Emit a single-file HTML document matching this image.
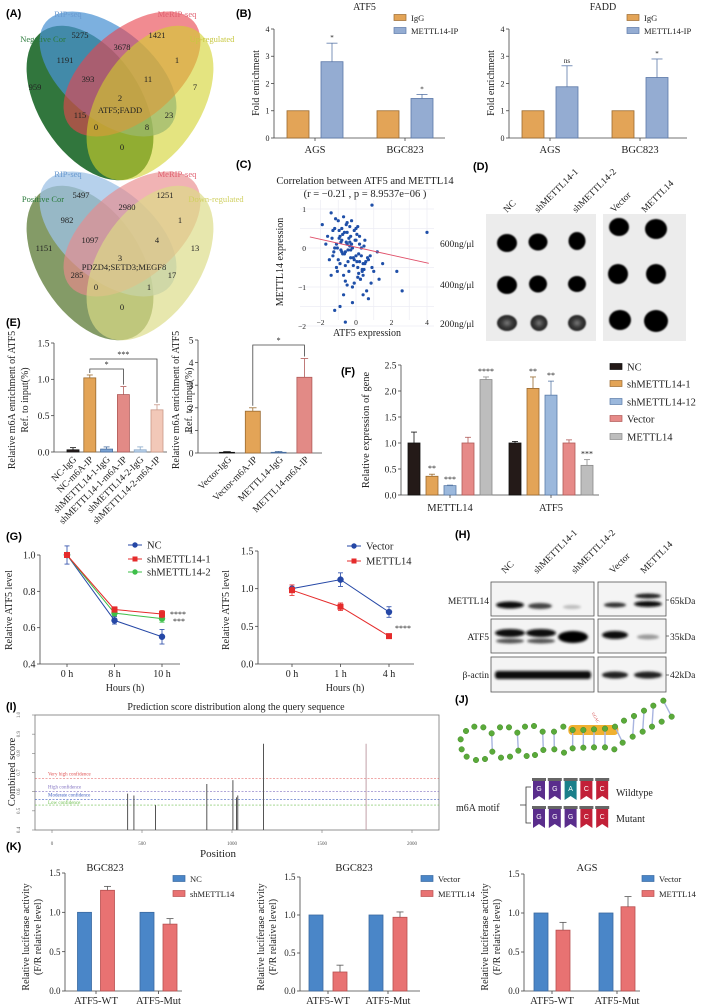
<!DOCTYPE html>
<html><head><meta charset="utf-8">
<style>
html,body{margin:0;padding:0;background:#fff;}
svg{display:block;font-family:"Liberation Serif",serif;}
.pl{font-family:"Liberation Sans",sans-serif;font-weight:bold;font-size:11px;}
</style></head>
<body>
<svg id="fig" width="709" height="1006" viewBox="0 0 709 1006" xmlns="http://www.w3.org/2000/svg">
<defs>
<filter id="blur" x="-20%" y="-50%" width="140%" height="200%"><feGaussianBlur stdDeviation="1.3"/></filter>
<filter id="blur2"><feGaussianBlur stdDeviation="0.8"/></filter>
<radialGradient id="faint"><stop offset="0" stop-color="#777"/><stop offset="0.55" stop-color="#3a3a3a"/><stop offset="1" stop-color="#222"/></radialGradient>
</defs>

<!-- Panel A -->
<g>
<text class="pl" x="6" y="17">(A)</text>
<ellipse cx="90" cy="103" rx="86" ry="51" transform="rotate(57 90 103)" fill="#1f6a2c" fill-opacity="0.92"/>
<ellipse cx="108" cy="74" rx="81" ry="45" transform="rotate(40 108 74)" fill="#4a92d2" fill-opacity="0.72"/>
<ellipse cx="132" cy="74" rx="81" ry="45" transform="rotate(-40 132 74)" fill="#e8444e" fill-opacity="0.62"/>
<ellipse cx="150" cy="103" rx="86" ry="51" transform="rotate(-57 150 103)" fill="#d2d22c" fill-opacity="0.6"/>
<g font-size="8.5" fill="#222" text-anchor="middle">
<text x="68" y="17" fill="#6a9ad0" font-size="8.5">RIP-seq</text>
<text x="177" y="17" fill="#e06070">MeRIP-seq</text>
<text x="43" y="42" fill="#2a7a3a">Negative Cor</text>
<text x="212" y="42" fill="#c8c840">Up-regulated</text>
<text x="80" y="38">5275</text><text x="157" y="38">1421</text><text x="122" y="50">3678</text>
<text x="65" y="63">1191</text><text x="177" y="63">1</text><text x="88" y="82">393</text><text x="148" y="82">11</text>
<text x="35" y="90">959</text><text x="195" y="90">7</text><text x="120" y="101">2</text>
<text x="120" y="113">ATF5;FADD</text>
<text x="80" y="118">115</text><text x="169" y="118">23</text><text x="96" y="130">0</text><text x="147" y="130">8</text><text x="122" y="150">0</text>
</g>
</g>
<g>
<ellipse cx="90" cy="263" rx="86" ry="51" transform="rotate(57 90 263)" fill="#6f8a4c" fill-opacity="0.85"/>
<ellipse cx="108" cy="234" rx="81" ry="45" transform="rotate(40 108 234)" fill="#9ec2e6" fill-opacity="0.75"/>
<ellipse cx="132" cy="234" rx="81" ry="45" transform="rotate(-40 132 234)" fill="#ea8a8c" fill-opacity="0.65"/>
<ellipse cx="150" cy="263" rx="86" ry="51" transform="rotate(-57 150 263)" fill="#dcdc86" fill-opacity="0.68"/>
<g font-size="8.5" fill="#222" text-anchor="middle">
<text x="68" y="177" fill="#6a9ad0">RIP-seq</text>
<text x="177" y="177" fill="#e06070">MeRIP-seq</text>
<text x="43" y="202" fill="#2a7a3a">Positive Cor</text>
<text x="216" y="202" fill="#d0d060">Down-regulated</text>
<text x="81" y="198">5497</text><text x="165" y="198">1251</text><text x="127" y="210">2980</text>
<text x="67" y="223">982</text><text x="180" y="223">1</text><text x="90" y="243">1097</text><text x="157" y="243">4</text>
<text x="44" y="251">1151</text><text x="195" y="251">13</text><text x="120" y="261">3</text>
<text x="124" y="270">PDZD4;SETD3;MEGF8</text>
<text x="77" y="278">285</text><text x="172" y="278">17</text><text x="96" y="290">0</text><text x="149" y="290">1</text><text x="122" y="310">0</text>
</g>
</g>

<!-- Panel labels -->
<text class="pl" x="236" y="17">(B)</text>
<text class="pl" x="236" y="168">(C)</text>
<text class="pl" x="473" y="170">(D)</text>
<text class="pl" x="6" y="326">(E)</text>
<text class="pl" x="341" y="375">(F)</text>
<text class="pl" x="6" y="540">(G)</text>
<text class="pl" x="455" y="538">(H)</text>
<text class="pl" x="6" y="710">(I)</text>
<text class="pl" x="455" y="703">(J)</text>
<text class="pl" x="6" y="850">(K)</text>

<!-- Panel D static blot -->
<g>
<rect x="486" y="214" width="110" height="127" fill="#ececec"/>
<rect x="603" y="214" width="83" height="127" fill="#ececec"/>
<g font-size="9.5" fill="#222">
<text x="440" y="247">600ng/μl</text>
<text x="440" y="288">400ng/μl</text>
<text x="440" y="327">200ng/μl</text>
<text transform="rotate(-45 507 213)" x="507" y="213">NC</text>
<text transform="rotate(-45 538 213)" x="538" y="213">shMETTL14-1</text>
<text transform="rotate(-45 576 213)" x="576" y="213">shMETTL14-2</text>
<text transform="rotate(-45 614 213)" x="614" y="213">Vector</text>
<text transform="rotate(-45 645 213)" x="645" y="213">METTL14</text>
</g>
<g fill="#050505" filter="url(#blur2)">
<ellipse cx="507" cy="243" rx="10" ry="9"/><ellipse cx="538" cy="242" rx="9.5" ry="8.5"/><ellipse cx="577" cy="241" rx="8.5" ry="9"/>
<ellipse cx="507" cy="285" rx="10" ry="9"/><ellipse cx="538" cy="284" rx="9" ry="8.5"/><ellipse cx="577" cy="284" rx="9" ry="8"/>
<ellipse cx="507" cy="323" rx="10" ry="8" fill="url(#faint)"/><ellipse cx="539" cy="323" rx="8.5" ry="8" fill="url(#faint)"/><ellipse cx="577" cy="323" rx="9" ry="8" fill="url(#faint)"/>
<ellipse cx="619" cy="227" rx="10" ry="9"/><ellipse cx="656" cy="229" rx="11" ry="10"/>
<ellipse cx="618" cy="274" rx="10" ry="10"/><ellipse cx="656" cy="274" rx="10" ry="10"/>
<ellipse cx="620" cy="320" rx="11" ry="10"/><ellipse cx="656" cy="321" rx="12" ry="11"/>
</g>
</g>

<!-- Panel H western blot -->
<g>
<g font-size="9.5" fill="#222">
<text transform="rotate(-45 505 574)" x="505" y="574">NC</text>
<text transform="rotate(-45 537 574)" x="537" y="574">shMETTL14-1</text>
<text transform="rotate(-45 575 574)" x="575" y="574">shMETTL14-2</text>
<text transform="rotate(-45 613 574)" x="613" y="574">Vector</text>
<text transform="rotate(-45 644 574)" x="644" y="574">METTL14</text>
<text x="489" y="604" text-anchor="end">METTL14</text>
<text x="489" y="640" text-anchor="end">ATF5</text>
<text x="489" y="678" text-anchor="end">β-actin</text>
<text x="670" y="604">65kDa</text>
<text x="670" y="640">35kDa</text>
<text x="670" y="678">42kDa</text>
</g>
<g fill="#f4f4f4" stroke="#555" stroke-width="0.8">
<rect x="491" y="582" width="103" height="34"/><rect x="598" y="582" width="68" height="34"/>
<rect x="491" y="619" width="103" height="34"/><rect x="598" y="619" width="68" height="34"/>
<rect x="491" y="657" width="103" height="35"/><rect x="598" y="657" width="68" height="35"/>
</g>
<g stroke="#555" stroke-width="0.8"><line x1="666" y1="600" x2="669" y2="600"/><line x1="666" y1="636" x2="669" y2="636"/><line x1="666" y1="675" x2="669" y2="675"/></g>
<g filter="url(#blur)">
<ellipse cx="510" cy="605" rx="14" ry="3.5" fill="#111"/><ellipse cx="540" cy="606" rx="12" ry="3" fill="#444"/><ellipse cx="572" cy="607" rx="9" ry="2" fill="#bbb"/>
<ellipse cx="615" cy="605" rx="11" ry="2.5" fill="#333"/><ellipse cx="648" cy="604" rx="14" ry="3" fill="#111"/><ellipse cx="648" cy="596" rx="13" ry="2.5" fill="#222"/>
<ellipse cx="510" cy="633" rx="15" ry="4" fill="#111"/><ellipse cx="541" cy="633" rx="15" ry="4" fill="#111"/><ellipse cx="573" cy="637" rx="15" ry="6" fill="#000"/>
<ellipse cx="510" cy="641" rx="14" ry="2.5" fill="#555"/><ellipse cx="541" cy="641" rx="14" ry="2.5" fill="#555"/>
<ellipse cx="615" cy="635" rx="13" ry="4" fill="#111"/><ellipse cx="648" cy="637" rx="11" ry="2.5" fill="#999"/>
<rect x="495" y="671" width="96" height="8" rx="3" fill="#111"/>
<ellipse cx="615" cy="675" rx="13" ry="3.5" fill="#222"/><ellipse cx="648" cy="675" rx="14" ry="3.5" fill="#222"/>
</g>
</g>

<!-- Panel J motif -->
<g font-size="10" fill="#222">
<text x="456" y="811">m6A motif</text>
<path d="M531 787 H526 V823 H531 M526 805 H520" fill="none" stroke="#333" stroke-width="0.8"/>
<text x="616" y="796">Wildtype</text>
<text x="616" y="822">Mutant</text>
</g>
<g id="jlayer"></g>

<g id="charts"></g>
</svg>

<script>
// ---------- DATA ----------
const bGroups = ['AGS', 'BGC823'];
const bTicks = [0, 1, 2, 3, 4];
const bAtf5IgG = [1, 1];
const bAtf5IP = [2.8, 1.45];
const bAtf5IPErr = [0.68, 0.15];
const bAtf5Stars = ['*', '*'];
const bFaddIgG = [1, 1];
const bFaddIP = [1.88, 2.22];
const bFaddIPErr = [0.77, 0.68];
const bFaddStars = ['ns', '*'];

const cAtf5 = [-1.9,-1.6,-1.4,-1.3,-1.2,-1.1,-1.0,-0.9,-0.8,-0.7,-0.6,-0.5,-0.4,-0.3,-0.2,-0.1,0.0,0.1,0.2,0.3,0.4,0.5,0.7,0.9,1.2,1.5,-1.5,-1.2,-0.95,-0.75,-0.55,-0.35,-0.15,0.05,0.25,0.45,0.65,0.85,-1.35,-1.05,-0.85,-0.65,-0.45,-0.25,-0.05,0.15,0.35,0.55,-1.15,-0.9,-0.7,-0.5,-0.3,-0.1,0.1,0.3,0.6,1.0,-1.25,-1.0,-0.8,-0.6,-0.4,-0.2,0.0,0.2,0.4,0.8,1.3,-1.7,-1.1,-0.85,-0.6,-0.35,-0.1,0.15,0.4,0.7,-0.9,-0.5,-0.2,0.1,2.3,2.6,4.0,-1.2,0.9,-0.7,-0.3,0.0,0.5,-1.4,-0.6,0.2,-0.75,-0.45,-0.15,-1.05,-0.55,0.05,-0.35,-0.65,0.35,-0.95,-0.25,0.25,-0.5,-0.8,0.45,-1.3];
const cMettl14 = [0.6,0.3,0.9,-0.2,0.5,0.1,0.7,-0.4,0.2,0.8,-0.1,0.4,-0.6,0.3,0.0,-0.3,0.5,-0.5,0.1,-0.2,-0.7,0.2,-0.3,-0.5,-0.1,-0.4,-0.3,0.0,0.45,-0.15,0.6,0.15,-0.45,0.35,-0.8,0.05,-0.25,-0.9,0.25,-0.6,-0.05,0.4,-0.35,0.7,0.2,-0.15,-0.55,-0.35,0.75,0.3,-0.7,0.1,-0.25,-0.9,0.55,0.0,-1.1,-0.6,-0.1,-0.3,0.5,-0.45,0.25,-1.0,-0.2,0.3,-1.2,-0.2,-0.8,0.1,-0.5,0.15,-0.85,0.05,0.45,-0.65,-0.4,-1.3,-1.5,-0.95,-1.4,-0.75,-0.6,-1.1,0.4,-1.6,1.1,-1.2,-0.05,0.2,-0.4,-0.7,-1.9,-0.35,0.35,-0.05,-0.25,0.0,0.15,-0.35,0.55,-0.15,-0.6,0.25,0.1,-0.8,0.65,-0.1,-0.55,0.45];
const cTicksX = [-2, 0, 2, 4];
const cTicksY = [-2, -1, 0, 1];
const cFit = [0.02, -0.101];   // intercept, slope

const eCats1 = ['NC-IgG','NC-m6A-IP','shMETTL14-1-IgG','shMETTL14-1-m6A-IP','shMETTL14-2-IgG','shMETTL14-2-m6A-IP'];
const eVals1 = [0.03, 1.02, 0.04, 0.79, 0.03, 0.58];
const eErrs1 = [0.03, 0.04, 0.03, 0.11, 0.04, 0.07];
const eTicks1 = [0, 0.5, 1.0, 1.5];
const eCats2 = ['Vector-IgG','Vector-m6A-IP','METTL14-IgG','METTL14-m6A-IP'];
const eVals2 = [0.03, 1.85, 0.03, 3.35];
const eErrs2 = [0.03, 0.15, 0.04, 0.83];
const eTicks2 = [0, 1, 2, 3, 4, 5];

const fGroups = ['METTL14', 'ATF5'];
const fSeries = ['NC', 'shMETTL14-1', 'shMETTL14-12', 'Vector', 'METTL14'];
const fNC = [1.0, 1.0];
const fSh1 = [0.36, 2.05];
const fSh12 = [0.18, 1.92];
const fVector = [1.0, 1.0];
const fMettl14 = [2.22, 0.57];
const fErrNC = [0.21, 0.03];
const fErrSh1 = [0.04, 0.22];
const fErrSh12 = [0.01, 0.27];
const fErrVector = [0.11, 0.06];
const fErrMettl14 = [0.05, 0.11];
const fStarsMettl14Group = ['', '**', '***', '', '****'];
const fStarsAtf5Group = ['', '**', '**', '', '***'];
const fTicks = [0, 0.5, 1.0, 1.5, 2.0, 2.5];

const gTimes1 = ['0 h', '8 h', '10 h'];
const gNC = [1.0, 0.64, 0.55];
const gNCErr = [0.05, 0.02, 0.04];
const gSh1 = [1.0, 0.70, 0.675];
const gSh1Err = [0.01, 0.015, 0.02];
const gSh2 = [1.0, 0.68, 0.65];
const gSh2Err = [0.01, 0.015, 0.02];
const gTicks1 = [0.4, 0.6, 0.8, 1.0];
const gTimes2 = ['0 h', '1 h', '4 h'];
const gVector = [1.0, 1.12, 0.69];
const gVectorErr = [0.05, 0.09, 0.07];
const gMettl14 = [0.98, 0.76, 0.37];
const gMettl14Err = [0.07, 0.05, 0.02];
const gTicks2 = [0, 0.5, 1.0, 1.5];

const iPositions = [420, 455, 575, 860, 1005, 1025, 1032, 1175, 1745];
const iScores = [0.59, 0.58, 0.53, 0.64, 0.66, 0.57, 0.58, 0.85, 0.85];
const iThresholds = [0.67, 0.60, 0.56, 0.53];
const iThreshLabels = ['Very high confidence', 'High confidence', 'Moderate confidence', 'Low confidence'];
const iTicksX = [0, 500, 1000, 1500, 2000];
const iTicksY = [0.4, 0.5, 0.6, 0.7, 0.8, 0.9, 1.0];

const kGroups = ['ATF5-WT', 'ATF5-Mut'];
const kTicks = [0, 0.5, 1.0, 1.5];
const k1Ctrl = [1, 1];
const k1Treat = [1.28, 0.85];
const k1Err = [0.05, 0.07];
const k2Ctrl = [1, 1];
const k2Treat = [0.25, 0.97];
const k2Err = [0.09, 0.07];
const k3Ctrl = [1, 1];
const k3Treat = [0.78, 1.08];
const k3Err = [0.1, 0.13];

// ---------- HELPERS ----------
const NS = 'http://www.w3.org/2000/svg';
const root = document.getElementById('charts');
function mk(tag, attrs, name, parent, txt) {
  const el = document.createElementNS(NS, tag);
  for (const k in attrs) el.setAttribute(k, attrs[k]);
  
  
  if (txt !== undefined) el.textContent = txt;
  (parent || root).appendChild(el);
  return el;
}
function lin(d0, d1, r0, r1) { return v => r0 + (v - d0) * (r1 - r0) / (d1 - d0); }
function fmt(v, d) { return v.toFixed(d); }
function yAxis(x, ys, ticks, dec, fs, name, tickLen) {
  const g = mk('g', {}, name);
  mk('line', {x1: x, x2: x, y1: ys(ticks[0]), y2: ys(ticks[ticks.length - 1]), stroke: '#444', 'stroke-width': 0.8}, name + '-line', g);
  ticks.forEach(t => {
    mk('line', {x1: x - (tickLen || 3), x2: x, y1: ys(t), y2: ys(t), stroke: '#444', 'stroke-width': 0.8}, name + '-tick', g);
    mk('text', {x: x - (tickLen || 3) - 1.5, y: ys(t) + fs * 0.35, 'font-size': fs, 'text-anchor': 'end', fill: '#222'}, name + '-tick-label', g, fmt(t, dec));
  });
  return g;
}
function xLine(x0, x1, y, name) {
  mk('line', {x1: x0, x2: x1, y1: y, y2: y, stroke: '#444', 'stroke-width': 0.8}, name);
}
function bar(cx, w, v, ys, fill, stroke, name, err, errCol) {
  const y = ys(v), y0 = ys(0);
  mk('rect', {x: cx - w / 2, y: Math.min(y, y0), width: w, height: Math.abs(y0 - y), fill: fill, stroke: stroke, 'stroke-width': 0.8}, name);
  if (err) {
    const ye = ys(v + err);
    mk('line', {x1: cx, x2: cx, y1: y, y2: ye, stroke: errCol || stroke, 'stroke-width': 0.8}, name + '-error');
    mk('line', {x1: cx - w / 4, x2: cx + w / 4, y1: ye, y2: ye, stroke: errCol || stroke, 'stroke-width': 0.8}, name + '-error-cap');
  }
}
function txt(x, y, s, fs, name, anchor, rot, fill) {
  const a = {x: x, y: y, 'font-size': fs, 'text-anchor': anchor || 'middle', fill: fill || '#222'};
  if (rot) a.transform = 'rotate(' + rot + ' ' + x + ' ' + y + ')';
  return mk('text', a, name, root, s);
}
function legendBox(x, y, fill, stroke, label, fs, name) {
  mk('rect', {x: x, y: y - 3.5, width: 12, height: 6, fill: fill, stroke: stroke, 'stroke-width': 0.7}, name + '-swatch');
  mk('text', {x: x + 17, y: y + fs * 0.35, 'font-size': fs, fill: '#222'}, name + '-label', root, label);
}

// ---------- PANEL B ----------
function panelB(x0, x1, cx0, title, igg, ip, ipErr, stars, pref) {
  const ys = lin(0, 4, 138, 29);
  const gx = i => cx0 + 90 * i;
  yAxis(x0, ys, bTicks, 0, 8, pref + '-y-axis');
  xLine(x0, x1, 138, pref + '-x-axis');
  txt(x0 - 15, 83, 'Fold enrichment', 10, pref + '-y-title', 'middle', -90);
  txt((x0 + x1) / 2 + 5, 10, title, 10, pref + '-title');
  bGroups.forEach((gname, i) => {
    bar(gx(i) - 17, 22, igg[i], ys, '#e3a457', '#9a6a30', pref + '-bar-igg-' + i);
    bar(gx(i) + 17, 22, ip[i], ys, '#94acd2', '#5b78a8', pref + '-bar-ip-' + i, ipErr[i], '#5b78a8');
    mk('line', {x1: gx(i), x2: gx(i), y1: 138, y2: 141, stroke: '#444', 'stroke-width': 0.8}, pref + '-x-tick');
    txt(gx(i), 153, gname, 10.5, pref + '-group-label');
    txt(gx(i) + 17, ys(ip[i] + ipErr[i]) - 3, stars[i], 7, pref + '-significance');
  });
}
panelB(274, 445, 315, 'ATF5', bAtf5IgG, bAtf5IP, bAtf5IPErr, bAtf5Stars, 'atf5-rip');
panelB(509, 687, 550, 'FADD', bFaddIgG, bFaddIP, bFaddIPErr, bFaddStars, 'fadd-rip');
legendBox(394, 18, '#e3a457', '#9a6a30', 'IgG', 8.5, 'atf5-legend-igg');
legendBox(394, 31, '#94acd2', '#5b78a8', 'METTL14-IP', 8.5, 'atf5-legend-ip');
legendBox(627, 18, '#e3a457', '#9a6a30', 'IgG', 8.5, 'fadd-legend-igg');
legendBox(627, 31, '#94acd2', '#5b78a8', 'METTL14-IP', 8.5, 'fadd-legend-ip');

// ---------- PANEL C ----------
(function () {
  const xs = lin(0, 2, 356, 391.5);
  const ys = lin(0, 1, 248, 209);
  txt(365, 184, 'Correlation between ATF5 and METTL14', 10.5, 'scatter-title');
  txt(365, 197, '(r = \u22120.21 , p = 8.9537e\u221206 )', 10.5, 'scatter-subtitle');
  [-2, -1, 0, 1, 2, 3, 4].forEach(v => mk('line', {x1: xs(v), x2: xs(v), y1: 200, y2: 320, stroke: '#ececf4', 'stroke-width': 0.7}, 'scatter-grid-x'));
  [-2, -1.5, -1, -0.5, 0, 0.5, 1, 1.5].forEach(v => mk('line', {x1: 300, x2: 434, y1: ys(v), y2: ys(v), stroke: '#ececf4', 'stroke-width': 0.7}, 'scatter-grid-y'));
  cTicksX.forEach(v => txt(xs(v), 325, String(v).replace('-', '\u2212'), 7.5, 'scatter-x-tick-label'));
  cTicksY.forEach(v => txt(306, ys(v) + 3, String(v).replace('-', '\u2212'), 7.5, 'scatter-y-tick-label', 'end'));
  const n = Math.min(cAtf5.length, cMettl14.length);
  for (let i = 0; i < n; i++) {
    mk('circle', {cx: xs(cAtf5[i]), cy: ys(cMettl14[i]), r: 1.6, fill: '#1f4fa8'}, 'scatter-point');
  }
  mk('line', {x1: xs(-2.6), y1: ys(cFit[0] + cFit[1] * -2.6), x2: xs(4.1), y2: ys(cFit[0] + cFit[1] * 4.1), stroke: '#e0506a', 'stroke-width': 0.9}, 'regression-line');
  txt(367, 336, 'ATF5  expression', 10, 'scatter-x-title');
  txt(283, 262, 'METTL14  expression', 10, 'scatter-y-title', 'middle', -90);
})();

// ---------- PANEL E ----------
(function () {
  const ys = lin(0, 1.5, 452, 343);
  const gx = i => 73 + 16.8 * i;
  const fills = ['#2a2020', '#e3a457', '#7ba4d4', '#e28a86', '#bcd3ec', '#f2c8b8'];
  const strokes = ['#111', '#9a6a30', '#4a6fa0', '#b05a58', '#8aa8c8', '#c89888'];
  yAxis(54, ys, eTicks1, 1, 9.5, 'e1-y-axis');
  xLine(54, 167, 452, 'e1-x-axis');
  eCats1.forEach((c, i) => {
    bar(gx(i), 12, eVals1[i], ys, fills[i], strokes[i], 'e1-bar-' + i, eErrs1[i], strokes[i]);
    txt(gx(i) + 4, 460, c, 9.5, 'e1-x-label', 'end', -45);
  });
  const b1 = 369, b2 = 359;
  mk('path', {d: `M${gx(1)} ${ys(eVals1[1] + eErrs1[1]) - 2} V${b1} H${gx(3)} V${ys(eVals1[3] + eErrs1[3]) - 2}`, fill: 'none', stroke: '#444', 'stroke-width': 0.8}, 'e1-bracket-star');
  mk('path', {d: `M${gx(1)} ${b2} H${gx(5)} V${ys(eVals1[5] + eErrs1[5]) - 2}`, fill: 'none', stroke: '#444', 'stroke-width': 0.8}, 'e1-bracket-3star');
  txt((gx(1) + gx(3)) / 2, b1 - 2, '*', 8, 'e1-sig-star');
  txt((gx(1) + gx(5)) / 2, b2 - 2, '***', 8, 'e1-sig-3star');
  txt(15, 400, 'Relative m6A enrichment of ATF5', 10, 'e1-y-title', 'middle', -90);
  txt(28, 400, 'Ref. to input(%)', 10, 'e1-y-title-2', 'middle', -90);
})();
(function () {
  const ys = lin(0, 5, 453, 340);
  const gx = i => 227 + 25.8 * i;
  const fills = ['#2a2020', '#e3a457', '#7ba4d4', '#e28a86'];
  const strokes = ['#111', '#9a6a30', '#4a6fa0', '#b05a58'];
  yAxis(198, ys, eTicks2, 0, 9.5, 'e2-y-axis');
  xLine(198, 322, 453, 'e2-x-axis');
  eCats2.forEach((c, i) => {
    bar(gx(i), 15, eVals2[i], ys, fills[i], strokes[i], 'e2-bar-' + i, eErrs2[i], strokes[i]);
    txt(gx(i) + 5, 460, c, 9.5, 'e2-x-label', 'end', -45);
  });
  mk('path', {d: `M${gx(1)} ${ys(eVals2[1] + eErrs2[1]) - 2} V345 H${gx(3)} V${ys(eVals2[3] + eErrs2[3]) - 2}`, fill: 'none', stroke: '#444', 'stroke-width': 0.8}, 'e2-bracket');
  txt((gx(1) + gx(3)) / 2, 343, '*', 8, 'e2-sig-star');
  txt(179, 400, 'Relative m6A enrichment of ATF5', 10, 'e2-y-title', 'middle', -90);
  txt(192, 400, 'Ref. to input(%)', 10, 'e2-y-title-2', 'middle', -90);
})();

// ---------- PANEL F ----------
(function () {
  const ys = lin(0, 2.5, 495, 365);
  const gx = i => 450 + 101 * i;
  const fills = ['#241a18', '#e3a457', '#9bb8dc', '#e68a88', '#bdbdbd'];
  const strokes = ['#111', '#9a6a30', '#5a7ba8', '#b05a58', '#8a8a8a'];
  const vals = [fNC, fSh1, fSh12, fVector, fMettl14];
  const errs = [fErrNC, fErrSh1, fErrSh12, fErrVector, fErrMettl14];
  const stars = [fStarsMettl14Group, fStarsAtf5Group];
  yAxis(401, ys, fTicks, 1, 9.5, 'f-y-axis');
  xLine(401, 599, 495, 'f-x-axis');
  fGroups.forEach((gname, gi) => {
    fSeries.forEach((s, si) => {
      const cx = gx(gi) + (si - 2) * 18;
      bar(cx, 12, vals[si][gi], ys, fills[si], strokes[si], 'f-bar-' + s + '-' + gname, errs[si][gi], strokes[si]);
      if (stars[gi][si]) txt(cx, ys(vals[si][gi] + errs[si][gi]) - 3, stars[gi][si], 8, 'f-significance');
    });
    mk('line', {x1: gx(gi), x2: gx(gi), y1: 495, y2: 498, stroke: '#444', 'stroke-width': 0.8}, 'f-x-tick');
    txt(gx(gi), 511, gname, 10.5, 'f-group-label');
  });
  txt(369, 430, 'Relative expression of gene', 10.5, 'f-y-title', 'middle', -90);
  const ly = [367, 384, 402, 419, 437];
  fSeries.forEach((s, i) => legendBox(610, ly[i], fills[i], strokes[i], s, 10.5, 'f-legend-' + i));
})();

// ---------- PANEL G ----------
function lineSeries(xsF, ys, vals, errs, color, marker, name) {
  const pts = vals.map((v, i) => [xsF(i), ys(v)]);
  mk('polyline', {points: pts.map(p => p.join(',')).join(' '), fill: 'none', stroke: color, 'stroke-width': 1}, name + '-line');
  vals.forEach((v, i) => {
    const x = xsF(i);
    mk('line', {x1: x, x2: x, y1: ys(v - errs[i]), y2: ys(v + errs[i]), stroke: color, 'stroke-width': 0.8}, name + '-error');
    mk('line', {x1: x - 2.5, x2: x + 2.5, y1: ys(v + errs[i]), y2: ys(v + errs[i]), stroke: color, 'stroke-width': 0.8}, name + '-error-cap');
    mk('line', {x1: x - 2.5, x2: x + 2.5, y1: ys(v - errs[i]), y2: ys(v - errs[i]), stroke: color, 'stroke-width': 0.8}, name + '-error-cap');
    if (marker === 's') mk('rect', {x: x - 3, y: ys(v) - 3, width: 6, height: 6, fill: color}, name + '-point');
    else mk('circle', {cx: x, cy: ys(v), r: 3.2, fill: color}, name + '-point');
  });
}
function lineLegend(x, y, color, marker, label, name) {
  mk('line', {x1: x, x2: x + 14, y1: y, y2: y, stroke: color, 'stroke-width': 1}, name + '-line');
  if (marker === 's') mk('rect', {x: x + 4.5, y: y - 2.5, width: 5, height: 5, fill: color}, name + '-marker');
  else mk('circle', {cx: x + 7, cy: y, r: 2.7, fill: color}, name + '-marker');
  mk('text', {x: x + 19, y: y + 3.5, 'font-size': 10.5, fill: '#222'}, name + '-label', root, label);
}
(function () {
  const ys = lin(0.4, 1.0, 664, 555);
  const xsF = i => 67 + 47.5 * i;
  yAxis(40, ys, gTicks1, 1, 10, 'g1-y-axis');
  xLine(40, 180, 664, 'g1-x-axis');
  gTimes1.forEach((t, i) => {
    mk('line', {x1: xsF(i), x2: xsF(i), y1: 664, y2: 667, stroke: '#444', 'stroke-width': 0.8}, 'g1-x-tick');
    txt(xsF(i), 677, t, 10, 'g1-x-tick-label');
  });
  lineSeries(xsF, ys, gNC, gNCErr, '#2547a6', 'c', 'g1-nc');
  lineSeries(xsF, ys, gSh2, gSh2Err, '#3ebf4a', 'c', 'g1-sh2');
  lineSeries(xsF, ys, gSh1, gSh1Err, '#e52b2b', 's', 'g1-sh1');
  txt(170, 617, '****', 8, 'g1-sig-sh1', 'start');
  txt(173, 624, '***', 8, 'g1-sig-sh2', 'start');
  lineLegend(128, 545, '#2547a6', 'c', 'NC', 'g1-legend-nc');
  lineLegend(128, 559, '#e52b2b', 's', 'shMETTL14-1', 'g1-legend-sh1');
  lineLegend(128, 572, '#3ebf4a', 'c', 'shMETTL14-2', 'g1-legend-sh2');
  txt(12, 610, 'Relative ATF5 level', 10, 'g1-y-title', 'middle', -90);
  txt(125, 691, 'Hours (h)', 10, 'g1-x-title');
})();
(function () {
  const ys = lin(0, 1.5, 664, 551);
  const xsF = i => 292 + 48.5 * i;
  yAxis(258, ys, gTicks2, 1, 10, 'g2-y-axis');
  xLine(258, 414, 664, 'g2-x-axis');
  gTimes2.forEach((t, i) => {
    mk('line', {x1: xsF(i), x2: xsF(i), y1: 664, y2: 667, stroke: '#444', 'stroke-width': 0.8}, 'g2-x-tick');
    txt(xsF(i), 677, t, 10, 'g2-x-tick-label');
  });
  lineSeries(xsF, ys, gVector, gVectorErr, '#2547a6', 'c', 'g2-vector');
  lineSeries(xsF, ys, gMettl14, gMettl14Err, '#e52b2b', 's', 'g2-mettl14');
  txt(395, 631, '****', 8, 'g2-sig', 'start');
  lineLegend(347, 546, '#2547a6', 'c', 'Vector', 'g2-legend-vector');
  lineLegend(347, 561, '#e52b2b', 's', 'METTL14', 'g2-legend-mettl14');
  txt(229, 610, 'Relative ATF5 level', 10, 'g2-y-title', 'middle', -90);
  txt(345, 691, 'Hours (h)', 10, 'g2-x-title');
})();

// ---------- PANEL I ----------
(function () {
  const xs = lin(0, 2000, 52, 412);
  const ys = lin(0.4, 1.0, 830, 715);
  mk('rect', {x: 35, y: 715, width: 404, height: 115, fill: 'none', stroke: '#777', 'stroke-width': 0.8}, 'i-plot-frame');
  txt(236, 710, 'Prediction score distribution along the query sequence', 10, 'i-title');
  iTicksY.forEach(v => {
    mk('line', {x1: 32, x2: 35, y1: ys(v), y2: ys(v), stroke: '#777', 'stroke-width': 0.6}, 'i-y-tick');
    txt(20, ys(v), v.toFixed(1), 5, 'i-y-tick-label', 'middle', -90, '#555');
  });
  iTicksX.forEach(v => {
    mk('line', {x1: xs(v), x2: xs(v), y1: 830, y2: 833, stroke: '#777', 'stroke-width': 0.6}, 'i-x-tick');
    txt(xs(v), 845, String(v), 5, 'i-x-tick-label', 'middle', 0, '#555');
  });
  const cols = ['#e05050', '#8070c0', '#4060c0', '#70c050'];
  iThresholds.forEach((t, k) => {
    mk('line', {x1: 35, x2: 439, y1: ys(t), y2: ys(t), stroke: cols[k], 'stroke-width': 0.6, 'stroke-dasharray': '2,1.5'}, 'i-threshold-' + k);
    txt(48, ys(t) - 3 + (k === 3 ? 2 : 0), iThreshLabels[k], 5, 'i-threshold-label', 'start', 0, cols[k]);
  });
  iPositions.forEach((p, i) => {
    mk('line', {x1: xs(p), x2: xs(p), y1: 830, y2: ys(iScores[i]), stroke: i === iPositions.length - 1 ? '#c0a0a8' : '#555', 'stroke-width': 1}, 'i-score-bar');
  });
  txt(218, 857, 'Position', 11, 'i-x-title');
  txt(15, 772, 'Combined score', 10.5, 'i-y-title', 'middle', -90);
})();

// ---------- PANEL K ----------
function panelK(axX, axEnd, cx0, step, gap, yTop, ctrl, treat, err, title, titleX, ctrlLabel, treatLabel, legX, pref) {
  const ys = lin(0, 1.5, 991, yTop);
  const gx = i => cx0 + step * i;
  yAxis(axX, ys, kTicks, 1, 9, pref + '-y-axis');
  xLine(axX, axEnd, 991, pref + '-x-axis');
  kGroups.forEach((g, i) => {
    bar(gx(i) - gap / 2, 14, ctrl[i], ys, '#4a86c8', '#3a6aa0', pref + '-bar-ctrl-' + i);
    bar(gx(i) + gap / 2, 14, treat[i], ys, '#e87272', '#b85050', pref + '-bar-treat-' + i, err[i], '#555');
    mk('line', {x1: gx(i), x2: gx(i), y1: 991, y2: 994, stroke: '#444', 'stroke-width': 0.8}, pref + '-x-tick');
    txt(gx(i), 1004, g, 10.5, pref + '-group-label');
  });
  txt(titleX, 871, title, 10.5, pref + '-title');
  txt(axX - 36, 937, 'Relative luciferase activity', 10, pref + '-y-title', 'middle', -90);
  txt(axX - 24, 937, '(F/R relative level)', 10, pref + '-y-title-2', 'middle', -90);
  legendBox(legX, 879, '#4a86c8', '#3a6aa0', ctrlLabel, 8.5, pref + '-legend-ctrl');
  legendBox(legX, 894, '#e87272', '#b85050', treatLabel, 8.5, pref + '-legend-treat');
}
panelK(65, 182, 96, 62.5, 23, 873, k1Ctrl, k1Treat, k1Err, 'BGC823', 105, 'NC', 'shMETTL14', 173, 'k1');
panelK(300, 420, 328, 60, 24, 877, k2Ctrl, k2Treat, k2Err, 'BGC823', 354, 'Vector', 'METTL14', 421, 'k2');
panelK(524, 640, 552, 65, 22, 874, k3Ctrl, k3Treat, k3Err, 'AGS', 587, 'Vector', 'METTL14', 642, 'k3');

// ---------- PANEL J (decorative RNA structure) ----------
(function () {
  const layer = document.getElementById('jlayer');
  const P = (zx, zy) => [440 + zx / 3, 690 + zy / 3];
  const top = [[78,123],[103,110],[130,112],[155,130],[180,112],[207,112],[232,128],[255,110],[282,108],[308,125],[342,125],[370,110],[398,120],[430,120],[462,118],[495,116],[525,110],[552,92],[582,78],[612,62],[640,47],[670,32]];
  const bot = [[62,148],[65,178],[80,200],[108,210],[135,207],[157,185],[183,203],[210,200],[235,182],[260,198],[285,195],[310,180],[343,178],[372,188],[398,175],[430,173],[462,172],[495,172],[523,178],[548,158],[578,140],[608,125],[636,110],[665,95],[695,80]];
  const pairs = [[[155,130],[157,185]],[[232,128],[235,182]],[[308,125],[310,180]],[[342,125],[343,178]],[[398,120],[398,175]],[[430,120],[430,173]],[[462,118],[462,172]],[[495,116],[495,172]],[[525,110],[548,158]],[[582,78],[578,140]],[[612,62],[608,125]],[[640,47],[636,110]],[[670,32],[695,80]]];
  const a = P(385, 105), b = P(535, 135);
  mk('rect', {x: a[0], y: a[1], width: b[0] - a[0], height: b[1] - a[1], rx: 4, fill: '#f0b030'}, 'motif-highlight', layer);
  pairs.forEach(pr => { const p = P(...pr[0]), q = P(...pr[1]); mk('line', {x1: p[0], y1: p[1], x2: q[0], y2: q[1], stroke: '#a8b4e0', 'stroke-width': 1.4}, 'base-pair', layer); });
  top.concat(bot).forEach(c => { const p = P(...c); mk('circle', {cx: p[0], cy: p[1], r: 2.8, fill: '#5aaa3a', stroke: '#3a8020', 'stroke-width': 0.4}, 'nucleotide', layer); });
  const t = P(455, 70);
  mk('text', {x: t[0], y: t[1], 'font-size': 4, fill: '#d04040', transform: 'rotate(60 ' + t[0] + ' ' + t[1] + ')'}, 'motif-site-label', layer, 'GGAC');
})();
(function () {
  const wt = ['G', 'G', 'A', 'C', 'C'];
  const mut = ['G', 'G', 'G', 'C', 'C'];
  const col = {G: '#5a2d8c', A: '#1a7f8a', C: '#c22038'};
  const xs = i => 539 + 15.8 * i;
  [[wt, 778], [mut, 806]].forEach(([seq, y0], r) => {
    seq.forEach((b, i) => {
      const x = xs(i) - 6;
      mk('rect', {x: x - 1, y: y0, width: 14, height: 3, fill: '#666'}, 'motif-cap');
      mk('path', {d: `M${x} ${y0 + 3} H${x + 12} V${y0 + 22} L${x + 6} ${y0 + 18} L${x} ${y0 + 22} Z`, fill: col[b]}, 'motif-base-' + b);
      mk('text', {x: x + 6, y: y0 + 13, 'font-size': 7, fill: '#fff', 'text-anchor': 'middle', 'font-family': 'Liberation Sans, sans-serif'}, 'motif-base-letter', root, b);
    });
  });
})();
</script>
</body></html>
